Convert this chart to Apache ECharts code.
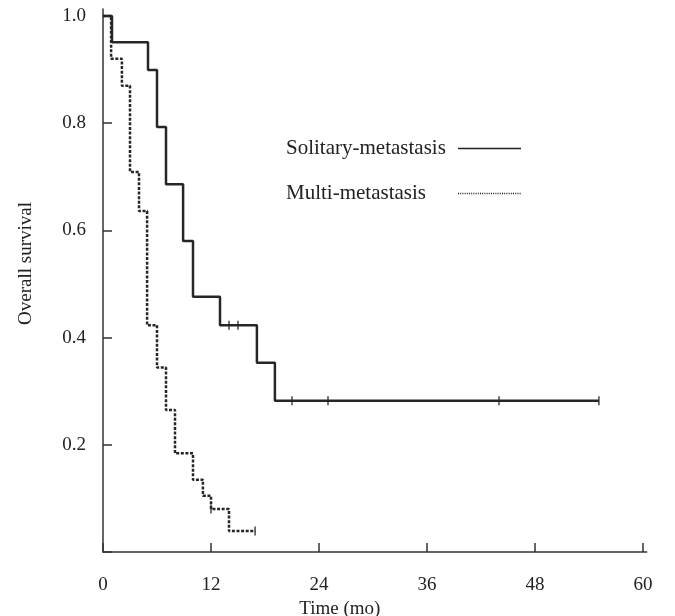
<!DOCTYPE html>
<html>
<head>
<meta charset="utf-8">
<script src="https://cdn.jsdelivr.net/npm/echarts@6/dist/echarts.min.js"></script>
<style>
html,body{margin:0;padding:0;background:#fff;}
#chart{width:675px;height:616px;}
</style>
</head>
<body>
<div id="chart"></div>
<script>
// Solitary-metastasis KM curve
var soloTimes = [0, 1, 5, 6, 7, 8.9, 10, 13, 17.1, 19.1, 55.1];
var soloSurv  = [1.0, 0.951, 0.899, 0.793, 0.686, 0.58, 0.476, 0.423, 0.353, 0.282, 0.282];
var soloCensorTimes = [14, 15, 21, 25, 44, 55.1];
var soloCensorSurv  = [0.423, 0.423, 0.282, 0.282, 0.282, 0.282];

// Multi-metastasis KM curve
var multiTimes = [0, 0.9, 2.1, 3.0, 4.0, 4.9, 6.0, 7.0, 8.0, 10.0, 11.1, 12.0, 14.0, 16.9];
var multiSurv  = [1.0, 0.92, 0.87, 0.709, 0.636, 0.423, 0.344, 0.265, 0.184, 0.135, 0.105, 0.08, 0.039, 0.039];
var multiCensorTimes = [12.0, 16.9];
var multiCensorSurv  = [0.08, 0.039];

var xTicks = [0, 12, 24, 36, 48, 60];
var yTickMarks = [0, 0.2, 0.4, 0.6, 0.8, 1.0];
var yTickLabels = [0.2, 0.4, 0.6, 0.8, 1.0];
var seriesNames = ['Solitary-metastasis', 'Multi-metastasis'];

function zip(a, b) { return a.map(function (v, i) { return [v, b[i]]; }); }

var FONT = 'Liberation Serif';
var INK = '#262626';

var chart = echarts.init(document.getElementById('chart'));
chart.setOption({
  animation: false,
  backgroundColor: '#fff',
  grid: { left: 103, right: 28.4, top: 9, bottom: 64, outerBoundsMode: 'none', containLabel: false },
  legend: {
    orient: 'vertical',
    left: 281,
    top: 133,
    align: 'right',
    itemWidth: 63,
    itemHeight: 12,
    itemGap: 24,
    formatter: function (n) { return '{a|' + n + '}'; },
    textStyle: {
      fontFamily: FONT, fontSize: 21, color: '#222',
      rich: { a: { fontFamily: FONT, fontSize: 21, color: '#222', width: 167, align: 'left' } }
    },
    data: [
      { name: seriesNames[0], itemStyle: { color: 'rgba(0,0,0,0)', borderWidth: 0, opacity: 0 },
        lineStyle: { width: 1.5, type: 'solid', color: '#222' } },
      { name: seriesNames[1], itemStyle: { color: 'rgba(0,0,0,0)', borderWidth: 0, opacity: 0 },
        lineStyle: { width: 1.5, type: [1, 1.2], color: '#222' } }
    ]
  },
  xAxis: {
    type: 'value',
    min: 0, max: 60.4,
    name: 'Time (mo)',
    nameLocation: 'middle',
    nameGap: 47,
    nameTextStyle: { fontFamily: FONT, fontSize: 19, color: '#222', padding: [0, 70, 0, 0] },
    axisLine: { lineStyle: { color: '#333', width: 1.5 } },
    axisTick: { inside: true, length: 9, customValues: xTicks, lineStyle: { color: '#333', width: 1.5 } },
    axisLabel: {
      fontFamily: FONT, fontSize: 19, color: '#222', margin: 24, customValues: xTicks
    },
    splitLine: { show: false }
  },
  yAxis: {
    type: 'value',
    min: 0, max: 1.013,
    name: 'Overall survival',
    nameLocation: 'middle',
    nameGap: 67,
    nameTextStyle: { fontFamily: FONT, fontSize: 19, color: '#222', padding: [0, 0, 0, 34] },
    axisLine: { lineStyle: { color: '#333', width: 1.5 } },
    axisTick: { inside: true, length: 9, customValues: yTickMarks, lineStyle: { color: '#333', width: 1.5 } },
    axisLabel: {
      fontFamily: FONT, fontSize: 19, color: '#222', margin: 17, customValues: yTickLabels,
      formatter: function (v) { return (+v).toFixed(1); }
    },
    splitLine: { show: false }
  },
  series: [
    {
      name: seriesNames[0], type: 'line', step: 'end', symbol: 'none',
      data: zip(soloTimes, soloSurv),
      lineStyle: { color: INK, width: 2.5, type: 'solid' },
      itemStyle: { color: INK },
      z: 3
    },
    {
      name: seriesNames[1], type: 'line', step: 'end', symbol: 'none',
      data: zip(multiTimes, multiSurv),
      lineStyle: { color: INK, width: 2.5, type: [3, 1.6] },
      itemStyle: { color: INK },
      z: 2
    },
    {
      name: 'soloCensor', type: 'scatter', symbol: 'rect', symbolSize: [1.6, 9],
      data: zip(soloCensorTimes, soloCensorSurv),
      itemStyle: { color: INK }, z: 4
    },
    {
      name: 'multiCensor', type: 'scatter', symbol: 'rect', symbolSize: [1.6, 9],
      data: zip(multiCensorTimes, multiCensorSurv),
      itemStyle: { color: INK }, z: 4
    }
  ]
});
</script>
</body>
</html>
